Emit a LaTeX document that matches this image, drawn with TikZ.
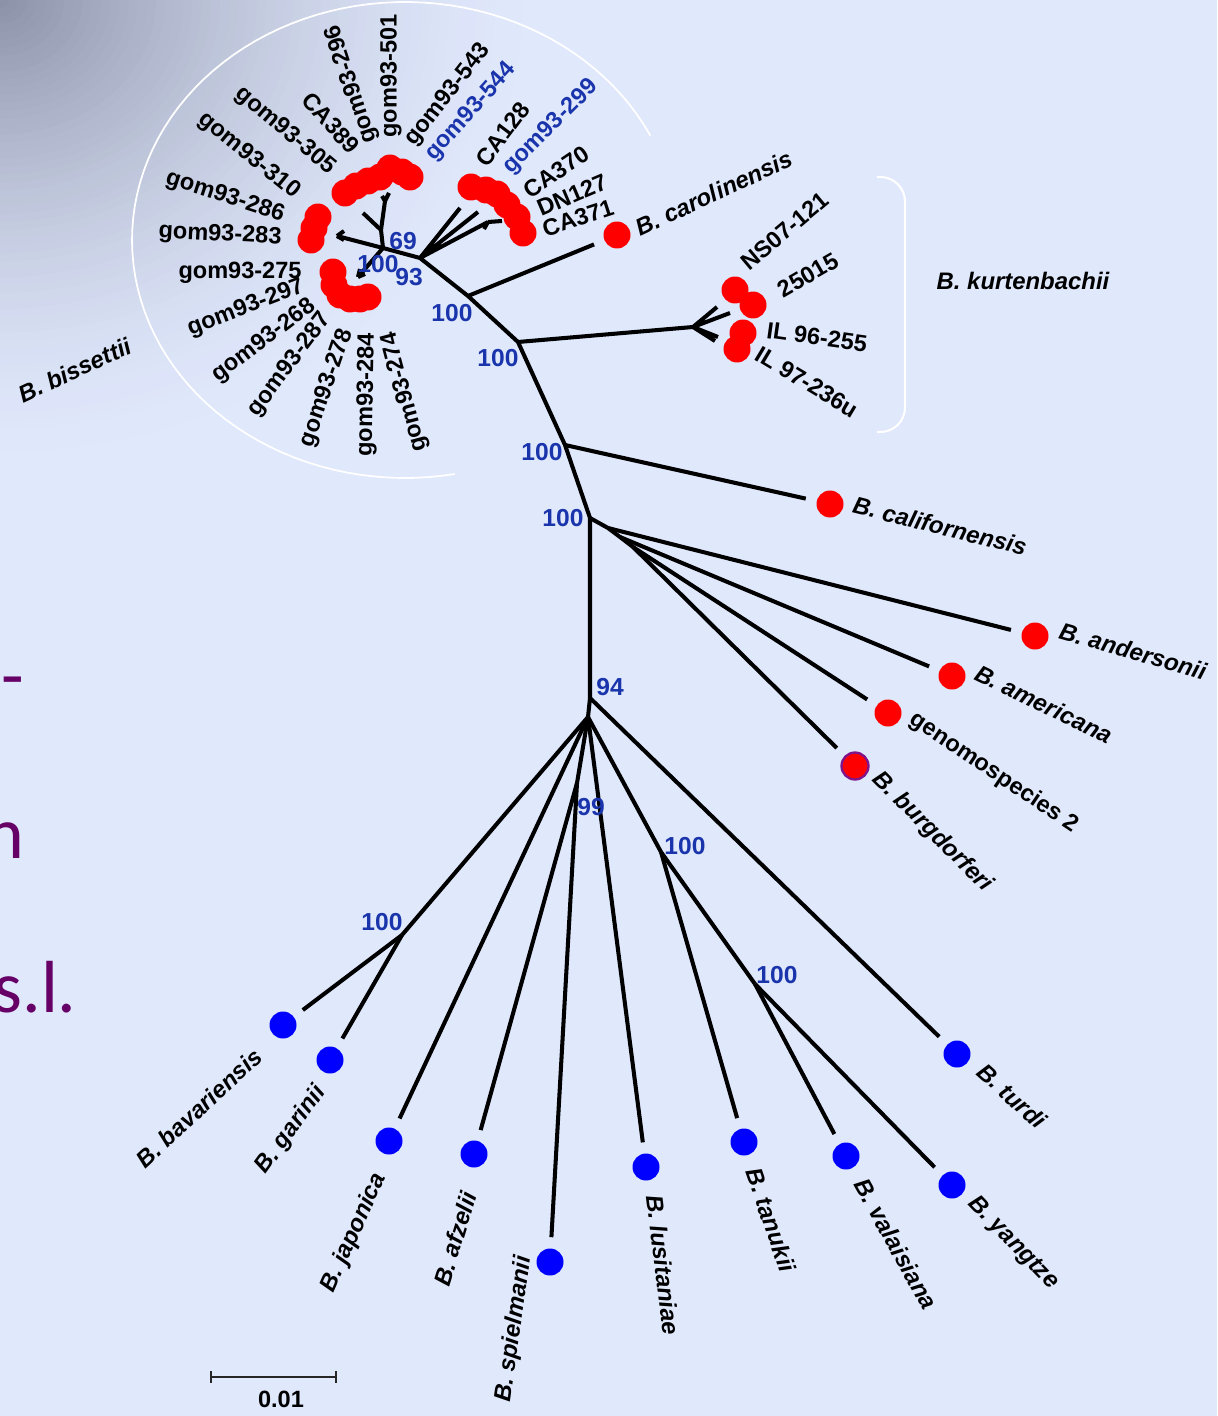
\documentclass[tikz,border=0pt]{standalone}
\usepackage{fontspec}
\setmainfont{Liberation Sans}
\newfontfamily\slidefont{Carlito}
\usepackage{tikz}
\definecolor{bgblue}{RGB}{224,232,252}
\definecolor{bgshade}{RGB}{140,146,168}
\definecolor{bootblue}{RGB}{26,52,172}
\definecolor{slidepurple}{RGB}{102,0,102}
\definecolor{tipred}{RGB}{255,0,0}
\definecolor{tipblue}{RGB}{0,0,255}
\definecolor{burgpurple}{RGB}{128,20,140}
\tikzset{%
  twig/.style    = {line width=2.3pt, line join=round},%
  branch/.style  = {twig, shorten >=0.22cm},%
  redtip/.style  = {circle, fill=tipred, inner sep=0pt, minimum size=0.54cm},%
  bluetip/.style = {redtip, fill=tipblue},%
  strain/.style  = {inner sep=0pt, font=\bfseries\fontsize{13.4}{15}\selectfont},%
  species/.style = {inner sep=0pt, font=\bfseries\itshape\fontsize{13.6}{15}\selectfont},%
  boot/.style    = {inner sep=0pt, text=bootblue, font=\bfseries\fontsize{14}{16}\selectfont}%
}

\begin{document}
\begin{tikzpicture}[x=0.02cm,y=-0.02cm,slide/.style={inner sep=0pt,text=slidepurple,font=\slidefont\fontsize{42}{50}\selectfont}]
	\useasboundingbox (0,0) rectangle (1217,1416);
	% background of the slide
	\fill[bgblue] (0,0) rectangle (1217,1416);
	\begin{scope}
		\clip (0,0) rectangle (1217,1416);
		\foreach \k in {1,...,60}{
			\pgfmathsetmacro\rr{1-(\k-1)/60}
			\pgfmathtruncatemacro\cc{100*(\k/60)^1.7}
			\fill[bgshade!\cc!bgblue] (0,0) ellipse [x radius={\rr*11cm}, y radius={\rr*9.5cm}];
		}
		\node[slide, anchor=base east] (slA) at (24,700) {s-};
		\node[slide, anchor=base east] (slB) at (25,858) {n};
		\node[slide, anchor=base east] (slC) at (77,1012) {s.l.};
	\end{scope}
	% group outlines
	\draw[white, line width=1pt] plot[domain=-26:-280.5, samples=90] ({405+273*cos(\x)},{240+238*sin(\x)});
	\draw[white, line width=1.2pt, rounded corners=14] (877,177) -- (905,177) -- (905,432) -- (877,432);

	% inner nodes of the tree
	\coordinate (bis) at (383,248);
	\coordinate (ca) at (420,258);
	\coordinate (car) at (468,296);
	\coordinate (kur) at (518,342);
	\coordinate (cal) at (565,445);
	\coordinate (na) at (590,518);
	\coordinate (nb) at (608,528);
	\coordinate (nc) at (620,537);
	\coordinate (nd) at (633,547);
	\coordinate (n94) at (590,698);
	\coordinate (star) at (588,717);
	\coordinate (n100a) at (402,935);
	\coordinate (n99) at (577,783);
	\coordinate (n100b) at (661,852);
	\coordinate (n100c) at (755,984);
	\coordinate (kf) at (693,327);
	\coordinate (b283) at (337,236);
	\coordinate (bup) at (381,230);
	\coordinate (bupl) at (363,213);
	\coordinate (buptop) at (385,201);
	\coordinate (blow) at (358,277);
	\coordinate (caa) at (460,208);
	\coordinate (cab) at (478,212);
	\coordinate (cac) at (488,222);

	% tips
	\node[redtip] (carol) at (617,235) {};
	\node[redtip] (calif) at (830,504) {};
	\node[redtip] (ander) at (1035,636) {};
	\node[redtip] (amer) at (952,676) {};
	\node[redtip] (geno) at (888,713) {};
	\node[redtip, draw=burgpurple, line width=1.3pt] (burg) at (855,766) {};
	\node[bluetip] (bav) at (283,1025) {};
	\node[bluetip] (gar) at (330,1060) {};
	\node[bluetip] (jap) at (389,1141) {};
	\node[bluetip] (afz) at (474,1154) {};
	\node[bluetip] (spi) at (550,1262) {};
	\node[bluetip] (lus) at (646,1167) {};
	\node[bluetip] (tan) at (744,1142) {};
	\node[bluetip] (val) at (846,1156) {};
	\node[bluetip] (yan) at (952,1185) {};
	\node[bluetip] (tur) at (957,1054) {};
	\foreach \p [count=\i] in {(735,290),(753,305),(743,333),(737,349)}
		\node[redtip] (kt\i) at \p {};
	\foreach \p [count=\i] in {(345,193),(356,186),(368,181),(380,177),(390,168),(402,172),(410,177)}
		\node[redtip] (bu\i) at \p {};
	\foreach \p [count=\i] in {(318,217),(314,228),(311,240)}
		\node[redtip] (bl\i) at \p {};
	\foreach \p [count=\i] in {(333,272),(334,285),(340,295),(350,299),(360,299),(368,297)}
		\node[redtip] (bd\i) at \p {};
	\foreach \p [count=\i] in {(471,187),(486,190),(497,194),(507,205),(517,217),(523,233)}
		\node[redtip] (cc\i) at \p {};

	% branches
	\draw[twig] (bis) -- (ca) -- (car) -- (kur) -- (cal) -- (na) -- (n94) -- (star);
	\draw[twig] (na) -- (nb) -- (nc) -- (nd);
	\draw[branch] (car) -- (carol);
	\draw[twig] (kur) -- (kf);
	\draw[twig] (kf) -- +(37,-14) (kf) -- +(24,-20) (kf) -- +(25,10) (kf) -- +(22,14);
	\draw[branch] (cal) -- (calif);
	\draw[branch] (nb) -- (ander);
	\draw[branch] (nc) -- (amer);
	\draw[branch] (nd) -- (geno);
	\draw[branch] (nd) -- (burg);
	\draw[branch] (n94) -- (tur);
	\draw[twig] (star) -- (n100a);
	\draw[branch] (n100a) -- (bav);
	\draw[branch] (n100a) -- (gar);
	\draw[branch] (star) -- (jap);
	\draw[twig] (star) -- (n99);
	\draw[branch] (n99) -- (afz);
	\draw[branch] (n99) -- (spi);
	\draw[branch] (star) -- (lus);
	\draw[twig] (star) -- (n100b);
	\draw[branch] (n100b) -- (tan);
	\draw[twig] (n100b) -- (n100c);
	\draw[branch] (n100c) -- (val);
	\draw[branch] (n100c) -- (yan);
	% B. bissettii cluster
	\draw[twig] (bis) -- (b283);
	\draw[twig] (b283) -- +(7,-5) (b283) -- +(7,4);
	\draw[twig] (bis) -- (bup) -- (buptop);
	\draw[twig] (bup) -- (bupl);
	\draw[twig] (buptop) -- +(4,-8) (buptop) -- +(-3,-5);
	\draw[twig] (bis) -- (blow);
	\draw[twig] (blow) -- +(2,-8) (blow) -- +(7,-3);
	\draw[twig] (ca) -- (caa) (ca) -- (cab) (ca) -- (cac);
	\draw[twig] (cac) -- +(14,-1) (cac) -- +(-4,7);

	% strain labels
	\node[strain, rotate=-3] (l283) at (220,235) {gom93-283};
	\node[strain, rotate=-18] (l286) at (225,197) {gom93-286};
	\node[strain, rotate=-39] (l310) at (249,156) {gom93-310};
	\node[strain, rotate=-40] (l305) at (285,131) {gom93-305};
	\node[strain, rotate=-48] (lCA389) at (331,123) {CA389};
	\node[strain, rotate=108] (l296) at (352,84) {gom93-296};
	\node[strain, rotate=90] (l501) at (391,76) {gom93-501};
	\node[strain, rotate=52] (l543) at (448,95) {gom93-543};
	\node[strain, rotate=48, text=bootblue] (l544) at (471,112) {gom93-544};
	\node[strain, rotate=53] (lCA128) at (503,134) {CA128};
	\node[strain, rotate=45, text=bootblue] (l299) at (551,127) {gom93-299};
	\node[strain, rotate=34] (lCA370) at (556,172) {CA370};
	\node[strain, rotate=23] (lDN127) at (572,195) {DN127};
	\node[strain, rotate=18] (lCA371) at (578,218) {CA371};
	\node[strain] (l275) at (240,273) {gom93-275};
	\node[strain, rotate=21] (l297) at (246,308) {gom93-297};
	\node[strain, rotate=37] (l268) at (264,341) {gom93-268};
	\node[strain, rotate=53] (l287) at (290,365) {gom93-287};
	\node[strain, rotate=71] (l278) at (327,388) {gom93-278};
	\node[strain, rotate=89] (l284) at (367,395) {gom93-284};
	\node[strain, rotate=105] (l274) at (405,392) {gom93-274};
	\node[strain, rotate=40] (lNS) at (785,231) {NS07-121};
	\node[strain, rotate=30] (l25015) at (808,275) {25015};
	\node[strain, rotate=-8] (lIL96) at (817,337) {IL 96-255};
	\node[strain, rotate=-31] (lIL97) at (807,382) {IL 97-236u};

	% species labels
	\node[species] (lkur) at (1023,281) {B. kurtenbachii};
	\node[species, rotate=25] (lbis) at (75,370) {B. bissettii};
	\node[species, rotate=25] (lcar) at (714,193) {B. carolinensis};
	\node[species, rotate=-14] (lcal) at (940,526) {B. californensis};
	\node[species, rotate=-16] (land) at (1133,651) {B. andersonii};
	\node[species, rotate=-26] (lame) at (1044,704) {B. americana};
	\node[strain, rotate=-34] (lgen) at (994,773) {genomospecies 2};
	\node[species, rotate=-45] (lbur) at (932,832) {B. burgdorferi};
	\node[species, rotate=-42] (ltur) at (1012,1096) {B. turdi};
	\node[species, rotate=-46] (lyan) at (1013,1243) {B. yangtze};
	\node[species, rotate=-61] (lval) at (896,1244) {B. valaisiana};
	\node[species, rotate=-71] (ltan) at (771,1220) {B. tanukii};
	\node[species, rotate=-83] (llus) at (663,1265) {B. lusitaniae};
	\node[species, rotate=82] (lspi) at (514,1329) {B. spielmanii};
	\node[species, rotate=73] (lafz) at (455,1239) {B. afzelii};
	\node[species, rotate=66] (ljap) at (354,1233) {B. japonica};
	\node[species, rotate=54] (lgar) at (291,1130) {B. garinii};
	\node[species, rotate=43] (lbav) at (199,1108) {B. bavariensis};

	% bootstrap values
	\node[boot] (b69) at (403,241) {69};
	\node[boot] (b100a) at (378,264) {100};
	\node[boot] (b93) at (409,277) {93};
	\node[boot] (b100b) at (452,313) {100};
	\node[boot] (b100c) at (498,358) {100};
	\node[boot] (b100d) at (542,452) {100};
	\node[boot] (b100e) at (563,518) {100};
	\node[boot] (b94) at (610,687) {94};
	\node[boot] (b99) at (591,807) {99};
	\node[boot] (b100f) at (685,846) {100};
	\node[boot] (b100g) at (382,922) {100};
	\node[boot] (b100h) at (777,975) {100};

	% scale bar
	\coordinate (sbl) at (211,1377);
	\coordinate (sbr) at (336,1377);
	\draw[line width=0.9pt, black!85] (sbl) -- (sbr) (sbl) ++(0,-6) -- ++(0,12) (sbr) ++(0,-6) -- ++(0,12);
	\node[strain] (sblab) at (281,1399) {0.01};
\end{tikzpicture}
\end{document}
